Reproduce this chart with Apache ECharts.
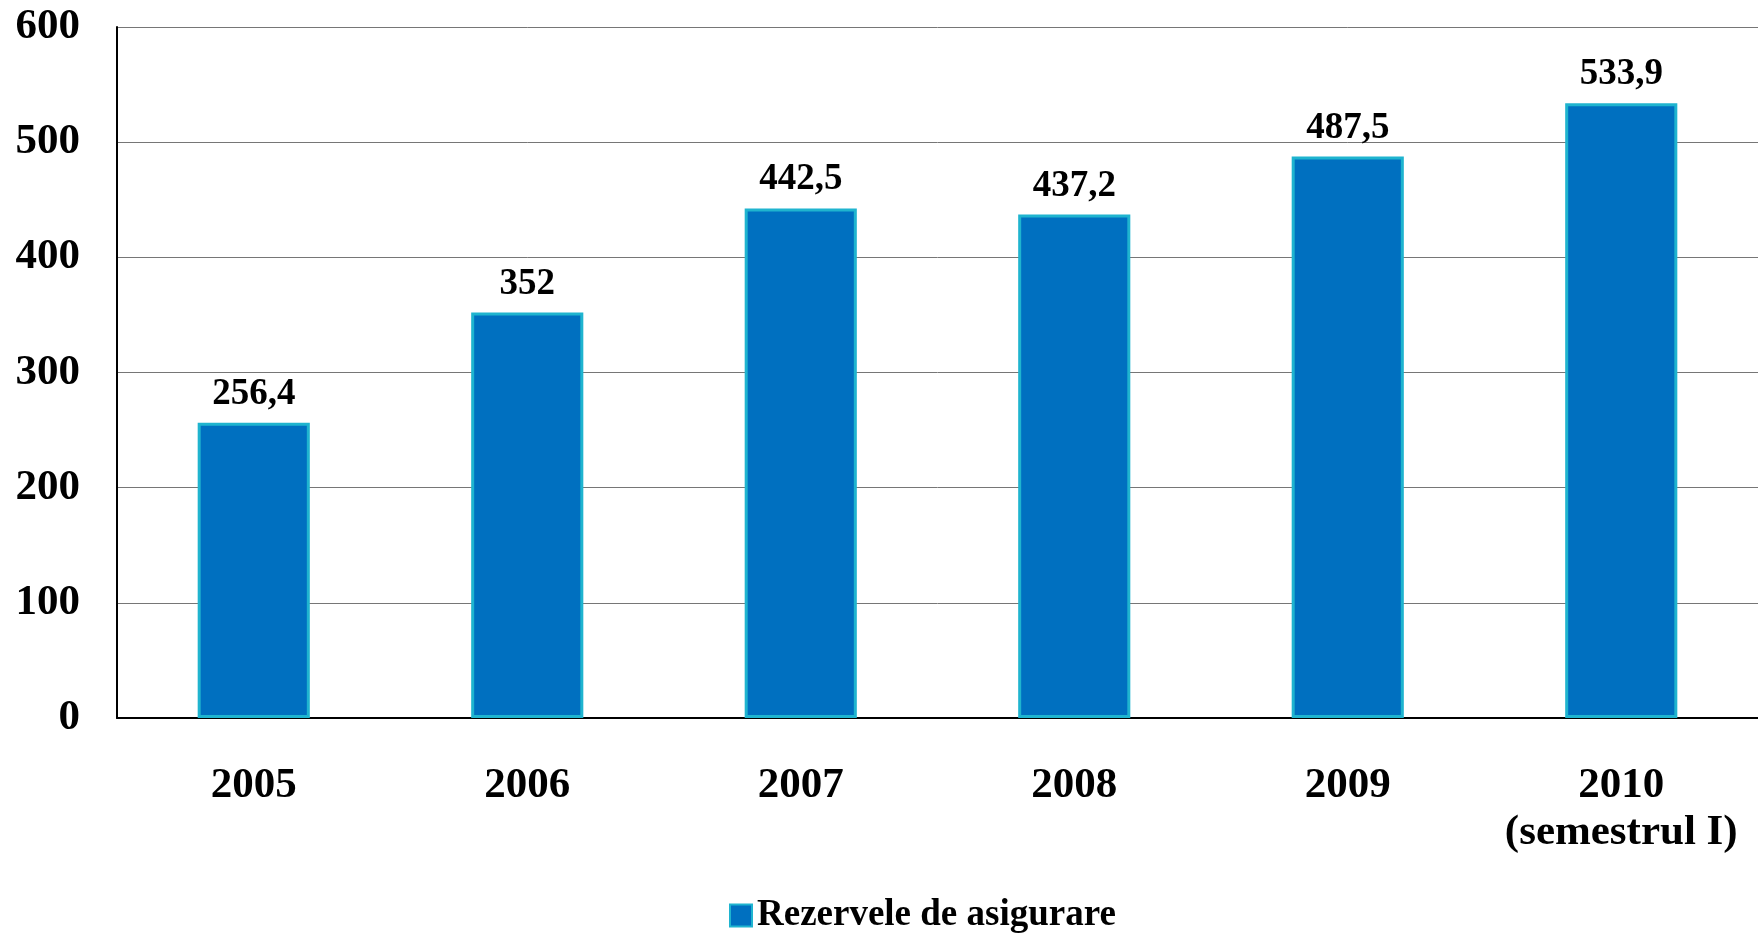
<!DOCTYPE html>
<html>
<head>
<meta charset="utf-8">
<script src="https://cdn.jsdelivr.net/npm/echarts@6/dist/echarts.min.js"></script>
<style>
  html, body { margin: 0; padding: 0; background: #fff; }
  #chart { width: 1758px; height: 934px; }
</style>
</head>
<body>
<div id="chart"></div>
<script>
var years = ['2005', '2006', '2007', '2008', '2009', '2010\n(semestrul I)'];
var rezerve = [256.4, 352, 442.5, 437.2, 487.5, 533.9];
var seriesName = 'Rezervele de asigurare';

var fontFam = '"Liberation Serif", "Times New Roman", serif';

var myChart = echarts.init(document.getElementById('chart'));
var option = {
	animation: false,
	backgroundColor: '#fff',
	grid: { left: 117, right: 0, top: 27, bottom: 216 },
	legend: {
		bottom: 0,
		left: 729,
		padding: 0,
		icon: 'rect',
		itemWidth: 22,
		itemHeight: 22,
		itemGap: 10,
		textStyle: { fontFamily: fontFam, fontWeight: 'bold', fontSize: 37, color: '#000' },
		data: [seriesName]
	},
	xAxis: {
		type: 'category',
		data: years,
		axisLine: { lineStyle: { color: '#000', width: 2 } },
		axisTick: { show: false },
		axisLabel: {
			interval: 0,
			margin: 44,
			fontFamily: fontFam, fontWeight: 'bold', fontSize: 43, lineHeight: 47, color: '#000'
		}
	},
	yAxis: {
		type: 'value',
		min: 0, max: 600, interval: 100,
		axisLine: { show: true, lineStyle: { color: '#000', width: 2 } },
		axisTick: { show: false },
		splitLine: { lineStyle: { color: '#767676', width: 1 } },
		axisLabel: {
			margin: 37,
			fontFamily: fontFam, fontWeight: 'bold', fontSize: 43, color: '#000'
		}
	},
	series: [{
		name: seriesName,
		type: 'bar',
		data: rezerve,
		barWidth: '41%',
		itemStyle: { color: '#0070C0', borderColor: '#1FB4CF', borderWidth: 3 },
		label: {
			show: true,
			position: 'top',
			distance: 10,
			fontFamily: fontFam, fontWeight: 'bold', fontSize: 37, color: '#000',
			formatter: function(p) { return String(p.value).replace('.', ','); }
		}
	}]
};
myChart.setOption(option);
</script>
</body>
</html>
